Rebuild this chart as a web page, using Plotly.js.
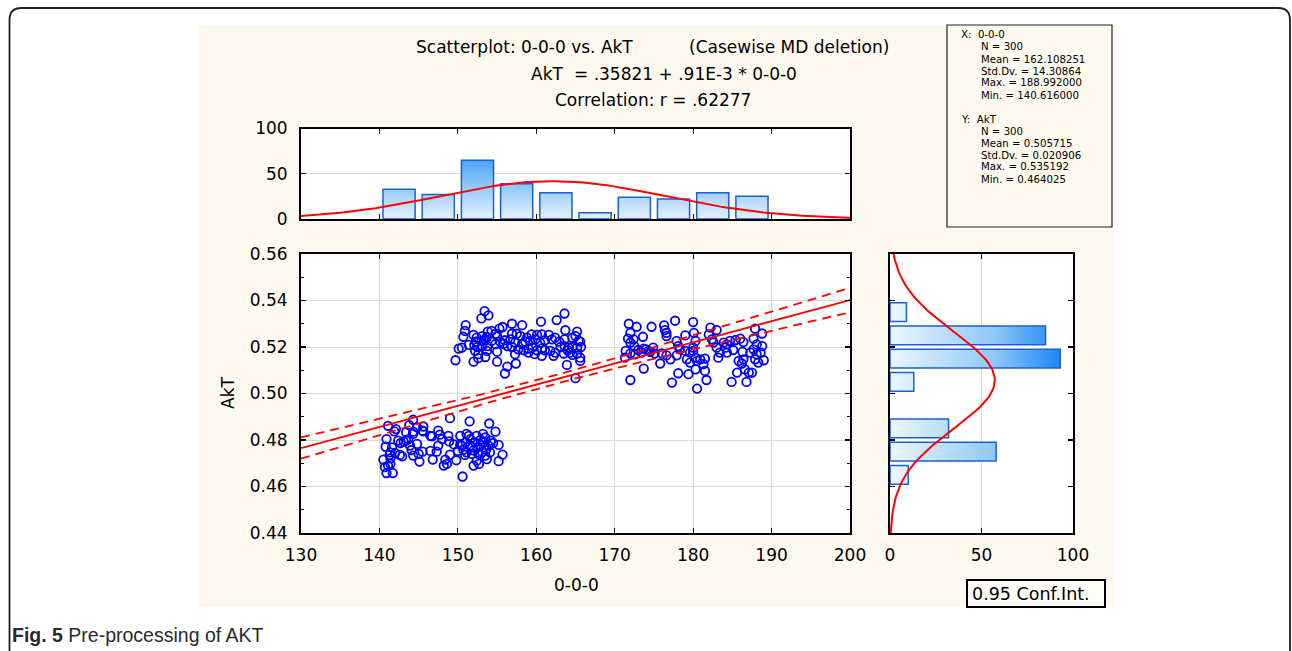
<!DOCTYPE html>
<html><head><meta charset="utf-8">
<script src="https://cdn.plot.ly/plotly-3.0.1.min.js"></script>
<style>html,body{margin:0;padding:0;background:#fff;}#chart{width:1292px;height:651px;}</style>
</head><body><div id="chart"></div>
<script>
// ---------------- DATA ----------------
const xValues = [
141.1,142.1,141.9,144.3,143.8,144.8,145.6,145.5,149.0,151.5,154.0,154.8,140.9,140.8,141.4,140.5,141.3,141.4,141.1,140.9,
141.7,141.4,142.4,142.7,142.6,142.9,143.1,143.4,143.4,143.7,144.1,144.3,144.3,144.8,145.0,145.1,145.5,145.6,146.5,146.7,
146.8,147.3,147.5,147.5,147.7,148.0,148.2,148.4,148.6,148.9,149.0,149.5,149.8,150.3,150.5,150.6,150.7,150.9,151.1,151.4,
151.6,151.8,152.0,152.2,152.4,152.5,152.6,152.7,152.9,153.1,153.2,153.3,153.5,153.6,153.7,153.9,154.1,154.2,154.5,155.2,
155.2,155.7,150.3,151.1,151.6,152.0,141.6,142.0,143.9,151.0,152.9,153.5,152.4,146.5,148.8,140.7,150.0,151.8,153.3,144.3,
153.4,153.9,153.0,163.6,162.6,160.6,151.0,156.9,158.2,155.7,155.3,154.3,153.8,150.9,150.7,152.0,152.4,153.1,153.7,155.0,
154.8,156.9,157.5,158.0,158.8,159.4,160.1,160.7,161.6,162.4,163.7,165.2,165.0,165.4,164.6,163.6,162.9,162.0,161.1,160.5,
159.9,159.2,158.6,158.2,157.3,156.7,156.0,155.8,155.4,154.3,153.5,153.0,152.3,152.1,151.4,150.5,150.1,152.5,153.1,153.8,
154.8,156.3,156.9,157.7,158.4,159.0,159.5,160.1,160.7,161.1,161.8,162.4,163.1,163.6,164.1,164.6,165.2,165.7,165.6,165.2,
164.6,164.0,163.5,162.2,160.7,159.8,159.0,157.3,155.0,153.5,152.6,152.2,152.6,152.0,149.7,155.0,156.3,157.4,156.0,163.9,
165.6,165.0,165.6,164.3,153.7,
171.8,172.8,172.0,171.7,172.0,172.5,171.4,171.3,172.0,172.6,173.0,173.4,173.7,174.0,174.3,173.6,174.7,176.3,176.4,176.6,
176.6,177.7,180.0,177.9,178.1,179.0,180.1,180.3,179.6,179.2,180.3,180.5,180.9,181.5,180.3,179.4,178.1,177.3,180.5,181.7,
172.0,173.7,175.8,174.5,175.1,176.0,176.6,177.9,179.0,180.0,182.2,183.0,182.0,182.4,182.6,183.0,183.4,183.2,183.9,184.3,
184.7,185.4,186.0,186.4,185.1,186.3,185.8,186.4,186.2,185.6,184.9,186.6,186.8,187.1,187.5,187.9,188.8,187.7,188.1,188.8,
188.6,188.1,187.9,188.3,189.0,187.7,184.1,181.3,179.6,180.0,178.3,174.9,172.4,181.5,187.3,184.3,177.1
];
const yValues = [
0.4861,0.4847,0.4837,0.4887,0.4864,0.4854,0.4858,0.4840,0.4894,0.4880,0.4871,0.4836,0.4804,0.4771,0.4747,0.4716,0.4736,0.4721,0.4690,0.4658,
0.4658,0.4697,0.4797,0.4787,0.4736,0.4730,0.4793,0.4833,0.4797,0.4804,0.4757,0.4826,0.4836,0.4783,0.4740,0.4707,0.4750,0.4837,0.4818,0.4816,
0.4716,0.4750,0.4840,0.4776,0.4823,0.4804,0.4690,0.4716,0.4697,0.4794,0.4737,0.4781,0.4713,0.4818,0.4776,0.4643,0.4758,0.4736,0.4826,0.4818,
0.4776,0.4740,0.4690,0.4790,0.4818,0.4768,0.4740,0.4697,0.4776,0.4747,0.4826,0.4790,0.4811,0.4758,0.4718,0.4776,0.4747,0.4797,0.4787,0.4779,
0.4709,0.4737,0.4780,0.4747,0.4804,0.4755,0.4768,0.4744,0.4776,0.4790,0.4801,0.4733,0.4711,0.4753,0.4818,0.4683,0.4753,0.4768,0.4768,0.4733,
0.5354,0.5336,0.5323,0.5344,0.5316,0.5309,0.5294,0.5300,0.5294,0.5286,0.5279,0.5269,0.5266,0.5269,0.5244,0.5252,0.5240,0.5247,0.5243,0.5247,
0.5257,0.5257,0.5257,0.5247,0.5240,0.5254,0.5252,0.5254,0.5252,0.5240,0.5272,0.5266,0.5247,0.5226,0.5240,0.5233,0.5223,0.5233,0.5229,0.5219,
0.5233,0.5226,0.5223,0.5214,0.5219,0.5233,0.5229,0.5214,0.5223,0.5226,0.5229,0.5226,0.5223,0.5209,0.5209,0.5197,0.5193,0.5200,0.5204,0.5204,
0.5212,0.5204,0.5200,0.5190,0.5186,0.5193,0.5197,0.5186,0.5194,0.5186,0.5183,0.5176,0.5200,0.5204,0.5197,0.5200,0.5197,0.5200,0.5223,0.5172,
0.5166,0.5186,0.5172,0.5162,0.5162,0.5169,0.5176,0.5169,0.5180,0.5157,0.5169,0.5183,0.5152,0.5137,0.5143,0.5137,0.5116,0.5129,0.5086,0.5123,
0.5140,0.5066,0.5154,0.5176,0.5183,
0.5300,0.5287,0.5261,0.5236,0.5219,0.5204,0.5183,0.5154,0.5173,0.5168,0.5187,0.5176,0.5193,0.5190,0.5183,0.5244,0.5287,0.5293,0.5273,0.5261,
0.5247,0.5313,0.5307,0.5226,0.5204,0.5250,0.5261,0.5226,0.5176,0.5147,0.5154,0.5140,0.5147,0.5150,0.5104,0.5083,0.5087,0.5047,0.5021,0.5058,
0.5058,0.5107,0.5129,0.5179,0.5173,0.5173,0.5164,0.5164,0.5183,0.5197,0.5283,0.5273,0.5254,0.5233,0.5219,0.5197,0.5176,0.5154,0.5219,0.5211,
0.5226,0.5230,0.5236,0.5221,0.5187,0.5179,0.5140,0.5147,0.5129,0.5090,0.5050,0.5104,0.5050,0.5090,0.5090,0.5279,0.5258,0.5236,0.5211,0.5204,
0.5176,0.5168,0.5147,0.5133,0.5143,0.5190,0.5197,0.5126,0.5133,0.5183,0.5190,0.5197,0.5233,0.5097,0.5176,0.5176,0.5147
];
const xHistEdges = [140,145,150,155,160,165,170,175,180,185];
const xHistCounts = [33,27,65,39,29,7,24,22,29,25];
const xBinWidth = 5;
const yHistEdges = [0.46,0.47,0.48,0.49,0.50,0.51,0.52,0.53];
const yHistCounts = [10,58,32,0,13,93,85,9];
const yBinWidth = 0.01;

const nObs = 300;
const xMean = 162.108251, xSd = 14.30864;
const yMean = 0.505715, ySd = 0.020906;
const regIntercept = 0.35821, regSlope = 0.00091, corrR = 0.62277;

const statLabels = ['N', 'Mean', 'Std.Dv.', 'Max.', 'Min.'];
const xStatValues = ['300', '162.108251', '14.30864', '188.992000', '140.616000'];
const yStatValues = ['300', '0.505715', '0.020906', '0.535192', '0.464025'];

const xTickVals = [130,140,150,160,170,180,190,200];
const yTickVals = [0.44,0.46,0.48,0.50,0.52,0.54,0.56];

// ---------------- DERIVED CURVES ----------------
const W = 1292, H = 651;
const px = v => v / W, py = v => 1 - v / H;
const SQ2PI = Math.sqrt(2 * Math.PI);

const lineX = [];
for (let v = 130; v <= 200.0001; v += 0.5) lineX.push(+v.toFixed(2));
const normTop = lineX.map(v => nObs * xBinWidth * Math.exp(-0.5 * ((v - xMean) / xSd) ** 2) / (xSd * SQ2PI));
const lineY = [];
for (let v = 0.44; v <= 0.56000001; v += 0.001) lineY.push(+v.toFixed(4));
const normRight = lineY.map(v => nObs * yBinWidth * Math.exp(-0.5 * ((v - yMean) / ySd) ** 2) / (ySd * SQ2PI));

const sxx = (nObs - 1) * xSd * xSd;
const se = ySd * Math.sqrt(1 - corrR * corrR) * Math.sqrt((nObs - 1) / (nObs - 2));
const tCrit = 1.968;
const fitY = lineX.map(v => regIntercept + regSlope * v);
const halfW = lineX.map(v => tCrit * se * Math.sqrt(1 / nObs + (v - xMean) ** 2 / sxx));
const upY = fitY.map((v, i) => v + halfW[i]);
const loY = fitY.map((v, i) => v - halfW[i]);

function vBars(edges, counts, w, inset) {
  const xs = [], ys = [];
  edges.forEach((e, i) => { if (!counts[i]) return;
    xs.push(e + inset, e + inset, e + w - inset, e + w - inset, e + inset, null);
    ys.push(0, counts[i], counts[i], 0, 0, null); });
  return {xs, ys};
}
const topBars = vBars(xHistEdges, xHistCounts, xBinWidth, 0.45);
const rb = vBars(yHistEdges, yHistCounts, yBinWidth, 0.001);

const RED = '#ff0000', BLUE_EDGE = '#1c5fd4';
const traces = [
  {type:'scatter', x: topBars.xs, y: topBars.ys, xaxis:'x2', yaxis:'y2', mode:'lines', fill:'toself',
   line:{color:BLUE_EDGE, width:1.5}, fillgradient:{type:'vertical', start:0, stop:68,
   colorscale:[[0,'#e6f2fe'],[1,'#45a2f8']]}, hoverinfo:'skip', showlegend:false},
  {type:'scatter', x: lineX, y: normTop, xaxis:'x2', yaxis:'y2', mode:'lines', line:{color:RED, width:2}, showlegend:false},
  {type:'scatter', x: rb.ys, y: rb.xs, xaxis:'x3', yaxis:'y3', mode:'lines', fill:'toself',
   line:{color:BLUE_EDGE, width:1.5}, fillgradient:{type:'horizontal', start:0, stop:95,
   colorscale:[[0,'#ecf6ff'],[0.6,'#8ec9f8'],[1,'#1683f5']]}, hoverinfo:'skip', showlegend:false},
  {type:'scatter', x: normRight, y: lineY, xaxis:'x3', yaxis:'y3', mode:'lines', line:{color:RED, width:2}, showlegend:false},
  {type:'scatter', x: xValues, y: yValues, mode:'markers', marker:{symbol:'circle-open', size:8.5, color:'#0000ff', line:{width:1.8, color:'#0000ff'}}, showlegend:false},
  {type:'scatter', x: lineX, y: upY, mode:'lines', line:{color:RED, width:1.8, dash:'9px,6px'}, showlegend:false},
  {type:'scatter', x: lineX, y: loY, mode:'lines', line:{color:RED, width:1.8, dash:'9px,6px'}, showlegend:false},
  {type:'scatter', x: lineX, y: fitY, mode:'lines', line:{color:RED, width:1.8}, showlegend:false}
];

const FONT = 'DejaVu Sans, Liberation Sans, Arial, sans-serif';
const tickFont = {family: FONT, size: 17, color: '#000'};
const frame = {showline:true, mirror:'ticks', linecolor:'#000', linewidth:2, ticks:'inside', ticklen:5, tickcolor:'#000', tickwidth:1.2, zeroline:false};
const mainX = [301, 850], mainY = [254, 533];
const topY = [128.5, 219];
const rightX = [890, 1073];

const layout = {
  width: W, height: H, autosize: false,
  margin: {l:0, r:0, t:0, b:0, pad:0},
  paper_bgcolor: '#ffffff', plot_bgcolor: 'rgba(0,0,0,0)',
  showlegend: false,
  font: {family: FONT, color:'#000'},
  xaxis: Object.assign({}, frame, {domain:[px(mainX[0]), px(mainX[1])], range:[130,200], tickvals:xTickVals, anchor:'y',
    showgrid:true, gridcolor:'#d9d9d9', gridwidth:1, tickfont:tickFont, ticklabelstandoff:6}),
  yaxis: Object.assign({}, frame, {domain:[py(mainY[1]), py(mainY[0])], range:[0.44,0.56], tickvals:yTickVals, tickformat:'.2f', anchor:'x',
    showgrid:true, gridcolor:'#d9d9d9', gridwidth:1, tickfont:tickFont, ticklabelstandoff:8,
    minor:{dtick:0.01, ticks:'inside', ticklen:3, tickcolor:'#000', showgrid:false}}),
  xaxis2: Object.assign({}, frame, {domain:[px(mainX[0]), px(mainX[1])], range:[130,200], tickvals:xTickVals, anchor:'y2',
    showticklabels:false, showgrid:false}),
  yaxis2: Object.assign({}, frame, {domain:[py(topY[1]), py(topY[0])], range:[0,100], tickvals:[0,50,100], anchor:'x2',
    showgrid:true, gridcolor:'#d9d9d9', tickfont:tickFont, ticklabelstandoff:8}),
  xaxis3: Object.assign({}, frame, {domain:[px(rightX[0]), px(rightX[1])], range:[0,100], tickvals:[0,50,100], anchor:'y3',
    showgrid:true, gridcolor:'#d9d9d9', tickfont:tickFont, ticklabelstandoff:6}),
  yaxis3: Object.assign({}, frame, {domain:[py(mainY[1]), py(mainY[0])], range:[0.44,0.56], tickvals:yTickVals, anchor:'x3',
    showticklabels:false, showgrid:false}),
  shapes: [],
  annotations: []
};

const S = layout.shapes, A = layout.annotations;
const rectPx = (x0, y0, x1, y1, fill, line, lw) => S.push({type:'rect', xref:'paper', yref:'paper', layer:'below',
  x0:px(x0), x1:px(x1), y0:py(y1), y1:py(y0), fillcolor:fill, line:{color:line||'rgba(0,0,0,0)', width:lw||0}});
// outer frame with rounded top corners
S.push({type:'path', xref:'paper', yref:'paper', layer:'below', line:{color:'#1e1e1e', width:1.8},
  path:`M ${px(9.5)},${py(652)} L ${px(9.5)},${py(20)} Q ${px(9.5)},${py(8)} ${px(21.5)},${py(8)} L ${px(1278)},${py(8)} Q ${px(1290)},${py(8)} ${px(1290)},${py(20)} L ${px(1290)},${py(652)}`});
rectPx(198, 25, 1115, 607, '#fef9ee');
rectPx(mainX[0], mainY[0], mainX[1], mainY[1], '#ffffff');
rectPx(mainX[0], topY[0], mainX[1], topY[1], '#ffffff');
rectPx(rightX[0], mainY[0], rightX[1], mainY[1], '#ffffff');
rectPx(947, 25, 1112, 227, 'rgba(0,0,0,0)', '#222', 1.2);
rectPx(967, 580, 1105, 607, '#fffdf8', '#000', 2);

const ann = (text, x, y, opts) => A.push(Object.assign({text, xref:'paper', yref:'paper', x:px(x), y:py(y),
  showarrow:false, xanchor:'left', yanchor:'middle', borderpad:0, font:{family:FONT, size:17, color:'#000'}}, opts || {}));

// titles
ann('Scatterplot: 0-0-0 vs. AkT', 415, 47);
ann('(Casewise MD deletion)', 890, 47, {xanchor:'right'});
ann('AkT', 530, 74);
ann('= .35821 + .91E-3 * 0-0-0', 573, 74);
ann('Correlation: r = .62277', 653, 100, {xanchor:'center'});
// axis titles
ann('AkT', 228, 393, {xanchor:'center', textangle:-90});
ann('0-0-0', 576, 585, {xanchor:'center'});
// stats box
const sFont = {family: FONT, size: 10.2, color:'#000'};
const sStep = 12;
ann('X:  0-0-0', 960, 35, {font:sFont});
statLabels.forEach((l, i) => ann(l + ' = ' + xStatValues[i], 980, 35 + (i + 1) * sStep, {font:sFont}));
ann('Y:  AkT', 960, 119, {font:sFont});
statLabels.forEach((l, i) => ann(l + ' = ' + yStatValues[i], 980, 119 + (i + 1) * sStep, {font:sFont}));
// legend box text
ann('0.95 Conf.Int.', 971, 593.5, {font:{family:FONT, size:17.5, color:'#000'}});
// caption
ann('<b>Fig. 5</b> Pre-processing of AKT', 11, 635, {font:{family:'Liberation Sans, Arial, sans-serif', size:19.5, color:'#2a2a2a'}});

Plotly.newPlot('chart', traces, layout, {displayModeBar:false, staticPlot:true});
</script></body></html>
